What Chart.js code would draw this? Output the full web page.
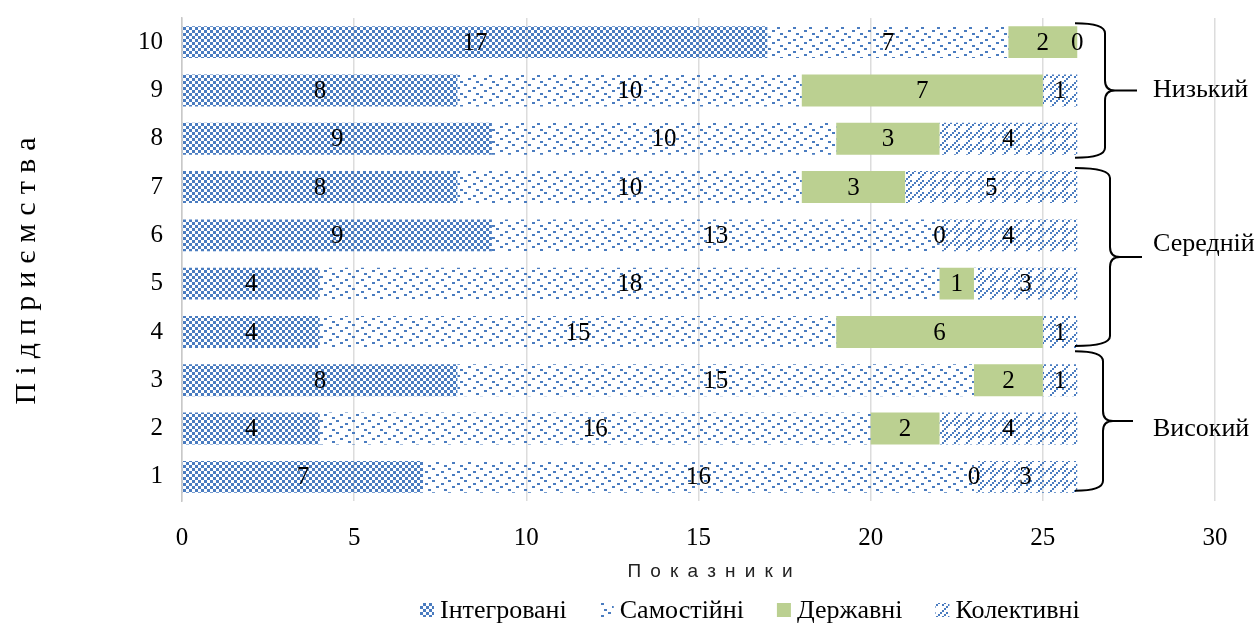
<!DOCTYPE html>
<html>
<head>
<meta charset="utf-8">
<script src="https://cdn.jsdelivr.net/npm/chart.js@4"></script>
<style>
  body { margin: 0; background: #fff; }
  #wrap { width: 1258px; height: 626px; }
</style>
</head>
<body>
<div id="wrap"><canvas id="chart"></canvas></div>
<script>
/* Stacked horizontal bars: enterprise forms by company (1-10) */

const categories = ['1', '2', '3', '4', '5', '6', '7', '8', '9', '10'];
const integrated  = [7, 4, 8, 4, 4, 9, 8, 9, 8, 17];
const independent = [16, 16, 15, 15, 18, 13, 10, 10, 10, 7];
const stateOwned  = [0, 2, 2, 6, 1, 0, 3, 3, 7, 2];
const collective  = [3, 4, 1, 1, 3, 4, 5, 4, 1, 0];
const seriesNames = ['Інтегровані', 'Самостійні', 'Державні', 'Колективні'];
const xTicks = [0, 5, 10, 15, 20, 25, 30];

// level groups: label, top row, bottom row
const levelNames = ['Низький', 'Середній', 'Високий'];
const levelRows = [['10', '8'], ['7', '4'], ['3', '1']];

const BLUE = '#4a7cc0';
const GREEN = '#bbd091';
const SERIF = '"Liberation Serif", "Times New Roman", serif';

// --- Fill patterns ---

function makePattern(w, h, draw) {
    const c = document.createElement('canvas');
    c.width = w; c.height = h;
    const g = c.getContext('2d');
    g.fillStyle = BLUE;
    draw(g);
    return g.createPattern(c, 'repeat');
}

const checker = makePattern(6, 6, g => {
    g.fillRect(0, 0, 3, 3);
    g.fillRect(3, 3, 3, 3);
});

const confetti = makePattern(16, 12, g => {
    g.fillRect(0, 0, 3, 2);
    g.fillRect(9, 3, 3, 2);
    g.fillRect(4, 6, 3, 2);
    g.fillRect(12, 9, 3, 2);
});

// two staggered dashed diagonals going up to the right
const diagDash = makePattern(12, 12, g => {
    [[10, 0], [8, 2], [6, 4], [10, 6], [8, 8], [6, 10], [4, 0], [2, 2], [0, 4]]
        .forEach(p => g.fillRect(p[0], p[1], 2, 2));
});

const fills = [checker, confetti, GREEN, diagDash];

// --- Plugins ---

const valueLabels = {
    id: 'valueLabels',
    afterDatasetsDraw(chart) {
        const ctx = chart.ctx;
        ctx.save();
        ctx.font = '25px ' + SERIF;
        ctx.fillStyle = '#000';
        ctx.textAlign = 'center';
        ctx.textBaseline = 'middle';
        chart.data.datasets.forEach((ds, i) => {
            chart.getDatasetMeta(i).data.forEach((bar, j) => {
                ctx.fillText(String(ds.data[j]), (bar.x + bar.base) / 2, bar.y + 1);
            });
        });
        ctx.restore();
    }
};

// brace shapes differ a little between the three groups
const braceShape = [
    { mid: 1105, tip: 1137, up: 19, down: 19, text: 0 },
    { mid: 1110, tip: 1142, up: 19, down: 14, text: -13 },
    { mid: 1103, tip: 1133, up: 29, down: 14, text: 8 },
];

function drawBrace(ctx, yTop, yBot, xMid, xTip) {
    const xEnd = 1075, r = 10;
    const yTip = (yTop + yBot) / 2;
    ctx.beginPath();
    ctx.moveTo(xEnd, yTop);
    ctx.quadraticCurveTo(xMid, yTop, xMid, yTop + r);
    ctx.lineTo(xMid, yTip - r);
    ctx.quadraticCurveTo(xMid, yTip, xMid + r, yTip);
    ctx.lineTo(xTip, yTip);
    ctx.moveTo(xMid + r, yTip);
    ctx.quadraticCurveTo(xMid, yTip, xMid, yTip + r);
    ctx.lineTo(xMid, yBot - r);
    ctx.quadraticCurveTo(xMid, yBot, xEnd, yBot);
    ctx.stroke();
    return yTip;
}

function spacedText(ctx, text, x, y, total) {
    // draw text char by char, stretched to a total width, centred on x
    const chars = [...text];
    const widths = chars.map(c => ctx.measureText(c).width);
    const raw = widths.reduce((a, b) => a + b, 0);
    const gap = (total - raw) / (chars.length - 1);
    let cx = x - total / 2;
    ctx.textAlign = 'left';
    chars.forEach((c, i) => {
        ctx.fillText(c, cx, y);
        cx += widths[i] + gap;
    });
}

const decorations = {
    id: 'decorations',
    afterDraw(chart) {
        const ctx = chart.ctx;
        const yScale = chart.scales.y;
        ctx.save();

        // braces with level names
        ctx.strokeStyle = '#000';
        ctx.lineWidth = 2;
        ctx.fillStyle = '#000';
        ctx.font = '26px ' + SERIF;
        ctx.textBaseline = 'middle';
        levelRows.forEach((rows, i) => {
            const b = braceShape[i];
            const top = yScale.getPixelForValue(categories.indexOf(rows[0])) - b.up;
            const bot = yScale.getPixelForValue(categories.indexOf(rows[1])) + b.down;
            const yTip = drawBrace(ctx, top, bot, b.mid, b.tip);
            ctx.textAlign = 'left';
            ctx.fillText(levelNames[i], 1153, yTip + b.text);
        });

        // axis titles
        ctx.font = '19px "Liberation Sans", Arial, sans-serif';
        ctx.fillStyle = '#222';
        spacedText(ctx, 'Показники', 710, 572, 165);

        ctx.save();
        ctx.translate(27, 271);
        ctx.rotate(-Math.PI / 2);
        ctx.font = '30px ' + SERIF;
        ctx.fillStyle = '#000';
        spacedText(ctx, 'Підприємства', 0, 0, 267);
        ctx.restore();

        // legend
        ctx.font = '26px ' + SERIF;
        ctx.textBaseline = 'middle';
        let lx = 420;
        const ly = 610;
        chart.data.datasets.forEach(ds => {
            ctx.fillStyle = ds.backgroundColor;
            ctx.fillRect(lx, ly - 7, 14, 14);
            ctx.fillStyle = '#000';
            ctx.textAlign = 'left';
            ctx.fillText(ds.label, lx + 20, ly + 1);
            lx += 20 + ctx.measureText(ds.label).width + 33;
        });

        ctx.restore();
    }
};

// --- Chart ---

const seriesData = [integrated, independent, stateOwned, collective];

new Chart(document.getElementById('chart'), {
    type: 'bar',
    data: {
        labels: categories,
        datasets: seriesData.map((d, i) => ({
            label: seriesNames[i],
            data: d,
            backgroundColor: fills[i],
            borderWidth: 0,
            barPercentage: 0.66,
            categoryPercentage: 1,
        }))
    },
    options: {
        indexAxis: 'y',
        responsive: true,
        maintainAspectRatio: false,
        animation: false,
        layout: { padding: { top: 18, right: 43, left: 0, bottom: 0 } },
        plugins: {
            legend: { display: false },
            tooltip: { enabled: false }
        },
        scales: {
            x: {
                stacked: true,
                min: 0,
                max: 30,
                afterBuildTicks: s => { s.ticks = xTicks.map(v => ({ value: v })); },
                afterFit: s => {
                    s.height = 125;
                    s.paddingLeft = 0;
                    s.paddingRight = 0;
                },
                grid: { color: '#dcdcdc', lineWidth: 1.5, drawTicks: false },
                border: { display: false },
                ticks: {
                    padding: 22,
                    color: '#000',
                    font: { family: SERIF, size: 25 }
                }
            },
            y: {
                stacked: true,
                reverse: true,
                afterFit: s => {
                    s.width = 182;
                    s.paddingTop = 0;
                    s.paddingBottom = 0;
                },
                grid: { display: false, drawTicks: false },
                border: { display: true, color: '#c8c8c8', width: 1.5 },
                ticks: {
                    padding: 19,
                    color: '#000',
                    font: { family: SERIF, size: 25 }
                }
            }
        }
    },
    plugins: [valueLabels, decorations]
});
</script>
</body>
</html>
